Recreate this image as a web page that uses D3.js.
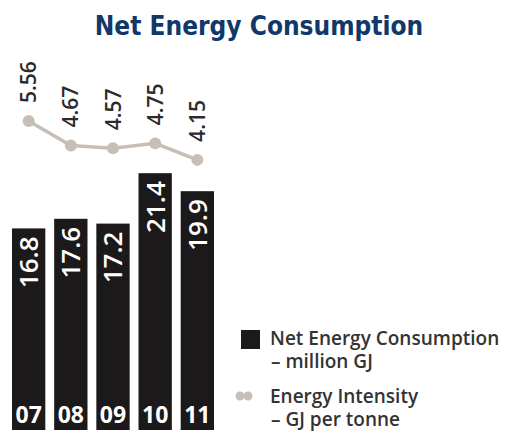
<!DOCTYPE html>
<html>
<head>
<meta charset="utf-8">
<script src="https://cdn.jsdelivr.net/npm/d3@7/dist/d3.min.js"></script>
<style>
  html, body { margin: 0; padding: 0; background: #fff; }
  svg { display: block; }
</style>
</head>
<body>
<svg id="chart" width="525" height="437"></svg>
<script>
// Data
const years = ["07", "08", "09", "10", "11"];
const consumption = [16.8, 17.6, 17.2, 21.4, 19.9];      // million GJ
const intensity = [5.56, 4.67, 4.57, 4.75, 4.15];       // GJ per tonne
const legendLabels = [
  ["Net Energy Consumption", "– million GJ"],
  ["Energy Intensity", "– GJ per tonne"]
];

const barColor = "#1b1919";
const lineColor = "#c7bfb6";
const textColor = "#333333";

const svg = d3.select("#chart");

// Title
svg.append("text")
  .attr("x", 259).attr("y", 35)
  .attr("text-anchor", "middle")
  .attr("font-family", "'DejaVu Sans Condensed', 'DejaVu Sans', sans-serif")
  .attr("font-stretch", "condensed")
  .attr("font-weight", "bold")
  .attr("font-size", 26)
  .attr("fill", "#10396a")
  .text("Net Energy Consumption");

// Scales
const x = d3.scaleBand().domain(years).range([12, 214]).paddingInner(0.21).paddingOuter(0);
const yBar = d3.scaleLinear().domain([0, 25]).range([430, 130]);
const yLine = d3.scaleLinear().domain([4, 6]).range([164, 109]);

const rows = years.map((yr, i) => ({ yr, c: consumption[i], e: intensity[i] }));

// Bars
const bars = svg.append("g");
bars.selectAll("rect").data(rows).join("rect")
  .attr("x", d => x(d.yr))
  .attr("y", d => yBar(d.c))
  .attr("width", x.bandwidth())
  .attr("height", d => yBar(0) - yBar(d.c))
  .attr("fill", barColor);

// Bar values, rotated, reading upward from the top of each bar
bars.selectAll("text.val").data(rows).join("text")
  .attr("class", "val")
  .attr("transform", d => `translate(${x(d.yr) + x.bandwidth() / 2},${yBar(d.c) + 8}) rotate(-90)`)
  .attr("dy", "0.36em")
  .attr("text-anchor", "end")
  .attr("font-family", "'Open Sans', sans-serif")
  .attr("font-weight", 600)
  .attr("font-size", 26)
  .attr("fill", "#ffffff")
  .text(d => d.c.toFixed(1));

// Year labels inside the bar bottoms
bars.selectAll("text.yr").data(rows).join("text")
  .attr("class", "yr")
  .attr("x", d => x(d.yr) + x.bandwidth() / 2)
  .attr("y", 423)
  .attr("text-anchor", "middle")
  .attr("font-family", "'Open Sans', sans-serif")
  .attr("font-weight", 700)
  .attr("font-size", 23)
  .attr("fill", "#ffffff")
  .text(d => d.yr);

// Energy intensity line
const cx = d => x(d.yr) + x.bandwidth() / 2;
const line = d3.line().x(cx).y(d => yLine(d.e));
const lg = svg.append("g");
lg.append("path")
  .datum(rows)
  .attr("d", line)
  .attr("fill", "none")
  .attr("stroke", lineColor)
  .attr("stroke-width", 3.5);
lg.selectAll("circle").data(rows).join("circle")
  .attr("cx", cx)
  .attr("cy", d => yLine(d.e))
  .attr("r", 6)
  .attr("fill", lineColor);
lg.selectAll("text").data(rows).join("text")
  .attr("transform", d => `translate(${cx(d)},${yLine(d.e) - 18}) rotate(-90)`)
  .attr("dy", "0.36em")
  .attr("text-anchor", "start")
  .attr("font-family", "'Open Sans', sans-serif")
  .attr("font-weight", 600)
  .attr("font-size", 21)
  .attr("fill", "#2b2b2b")
  .text(d => d.e.toFixed(2));

// Legend
const leg = svg.append("g");
leg.append("rect")
  .attr("x", 241).attr("y", 330).attr("width", 19).attr("height", 19)
  .attr("fill", barColor);
leg.selectAll("circle").data([240, 248]).join("circle")
  .attr("cx", d => d).attr("cy", 396).attr("r", 4.5)
  .attr("fill", lineColor);

// Each legend entry is one text block with two tightly spaced lines
const legendY = [345, 403];
legendLabels.forEach((lines, i) => {
  const t = leg.append("text")
    .attr("x", 270)
    .attr("y", legendY[i])
    .attr("font-family", "'Open Sans', sans-serif")
    .attr("font-weight", 600)
    .attr("font-size", 19)
    .attr("fill", textColor);
  lines.forEach((s, j) => {
    t.append("tspan")
      .attr("x", j === 0 ? 270 : 271)
      .attr("dy", j === 0 ? 0 : 22.5)
      .text(s);
  });
});
</script>
</body>
</html>
